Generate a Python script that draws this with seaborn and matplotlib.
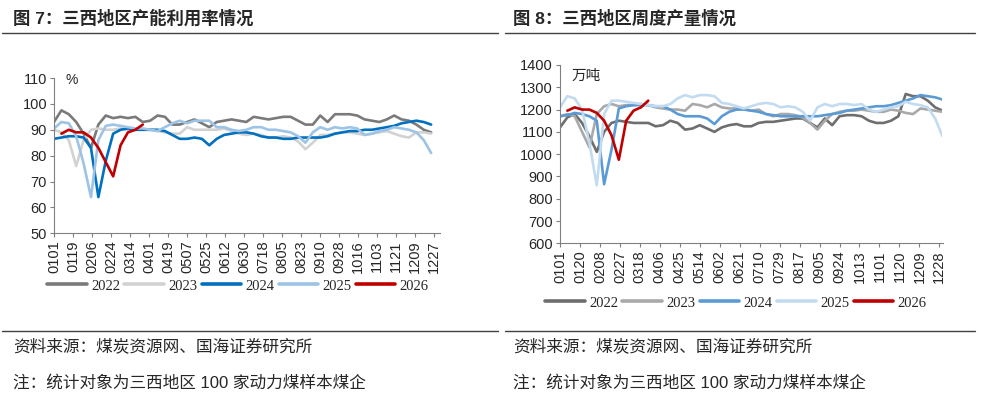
import numpy as np
import pandas as pd
import matplotlib
matplotlib.use('Agg')
import matplotlib.pyplot as plt
import seaborn as sns

sns.set_style('white')
plt.rcParams['font.family'] = ['Liberation Sans', 'Noto Sans CJK SC', 'DejaVu Sans']

years = ['2022', '2023', '2024', '2025', '2026']

# 图7 capacity utilisation (%), weekly
cap_2022 = [93, 97.5, 96, 93, 88.5, 83, 92, 95.5, 94.5, 95, 94.5, 95, 93, 93.5, 95.5, 95, 92, 92, 93, 94,
            92.5, 91, 93, 93.5, 94, 93.5, 93, 95, 94.5, 94, 94.5, 95, 95, 93.5, 92, 92, 95.5, 93, 96, 96,
            96, 95.5, 94, 93.5, 93, 94, 95.5, 94, 93.5, 92, 90, 89]
cap_2023 = [90, 89, 86, 76, 86, 90, 90.5, 90, 90, 90.5, 90, 90, 90, 90, 89.5, 89, 88.5, 88.5, 91, 90,
            90, 90, 90, 90.5, 89.5, 88.5, 88, 88.5, 88, 87, 87, 87.5, 87, 85.5, 82.5, 85, 88, 88, 88.5, 89,
            89, 88.5, 88, 88.5, 89, 89.5, 88.5, 87.5, 87, 89, 89, 88.5]
cap_2024 = [86.5, 87, 87.5, 87.5, 87, 83, 64, 78, 88.5, 90, 90.5, 90, 90, 90, 90, 89.5, 88, 86.5, 86.5, 87,
            86.5, 84, 86.5, 88, 88.5, 89, 89, 88.5, 87.5, 87, 87, 86.5, 86.5, 87, 87, 87, 87, 87.5, 88.5, 89,
            89.5, 89.5, 90, 90, 90.5, 91, 91.5, 92.5, 93, 93.5, 93, 92]
cap_2025 = [90.5, 93, 92.5, 87.5, 77, 64, 86, 91.5, 92, 91.5, 91, 90.5, 90.5, 90, 89.5, 91, 92.5, 93.5, 92.5, 93.5,
            93.5, 93.5, 91, 91, 90, 89.5, 90, 91, 91, 90, 90, 89.5, 89, 87.5, 85, 89, 91, 90, 91, 90.5,
            91, 90.5, 88, 88.5, 89.5, 90, 91, 90.5, 90, 89, 86, 81]
cap_2026 = [88.5, 90, 89, 89, 87, 83, 77.5, 72, 84, 89, 90, 92]
cap_ticks = ['0101', '0119', '0206', '0224', '0314', '0401', '0419', '0507', '0525', '0612', '0630',
             '0718', '0805', '0823', '0910', '0928', '1016', '1103', '1121', '1209', '1227']

# 图8 weekly output (万吨)
out_2022 = [1120, 1165, 1180, 1140, 1080, 1010, 1100, 1140, 1150, 1145, 1140, 1140, 1140, 1125, 1130, 1150, 1140, 1110,
            1115, 1130, 1115, 1100, 1120, 1130, 1135, 1125, 1125, 1140, 1145, 1145, 1150, 1155, 1160, 1160, 1140, 1120,
            1160, 1130, 1170, 1175, 1175, 1170, 1150, 1140, 1140, 1150, 1170, 1270, 1260, 1260, 1240, 1210, 1195]
out_2023 = [1170, 1180, 1170, 1100, 1030, 1180, 1215, 1225, 1215, 1220, 1220, 1225, 1220, 1210, 1205, 1200, 1200, 1195,
            1225, 1220, 1210, 1225, 1210, 1205, 1205, 1205, 1195, 1200, 1180, 1170, 1180, 1180, 1175, 1165, 1140, 1110,
            1150, 1180, 1190, 1195, 1195, 1200, 1195, 1190, 1190, 1200, 1195, 1185, 1180, 1205, 1200, 1195, 1190]
out_2024 = [1170, 1175, 1185, 1180, 1170, 1150, 865, 1020, 1205, 1215, 1220, 1220, 1220, 1215, 1215, 1200, 1180, 1170,
            1170, 1170, 1160, 1135, 1170, 1190, 1200, 1200, 1195, 1190, 1180, 1175, 1170, 1170, 1170, 1170, 1170, 1170,
            1175, 1180, 1185, 1195, 1200, 1205, 1210, 1215, 1215, 1220, 1230, 1240, 1250, 1265, 1260, 1255, 1245]
out_2025 = [1210, 1260, 1250, 1200, 1050, 860, 1180, 1240, 1240, 1235, 1230, 1225, 1220, 1215, 1215, 1225, 1250, 1265,
            1255, 1265, 1265, 1260, 1230, 1225, 1215, 1205, 1215, 1225, 1230, 1225, 1210, 1215, 1210, 1190, 1150, 1210,
            1225, 1215, 1225, 1225, 1220, 1225, 1200, 1190, 1200, 1210, 1215, 1235, 1225, 1220, 1210, 1160, 1080]
out_2026 = [1195, 1210, 1200, 1200, 1185, 1150, 1085, 975, 1150, 1195, 1210, 1240]
out_ticks = ['0101', '0120', '0208', '0227', '0318', '0406', '0425', '0514', '0602', '0621', '0710',
             '0729', '0817', '0905', '0924', '1013', '1101', '1120', '1209', '1228']

cap_colors = ['#7a7a7a', '#d2d2d2', '#0070c0', '#9dc3e6', '#c00000']
out_colors = ['#6e6e6e', '#a9a9a9', '#5b9bd5', '#c3dbf0', '#c00000']


def to_long(series):
    # weekly points, 2026 starts one week in
    rows = []
    for yr, vals in zip(years, series):
        start = 1 if yr == '2026' else 0
        for i, v in enumerate(vals):
            rows.append({'day': 7 * (i + start), 'value': v, 'year': yr})
    return pd.DataFrame(rows)


def draw_panel(ax, df, colors, tick_step, ticks, ylim, ystep, xmax):
    sns.lineplot(data=df, x='day', y='value', hue='year', palette=dict(zip(years, colors)),
                 linewidth=1.9, sort=False, ax=ax, legend=True)
    ax.set_xlim(0, xmax)
    ax.set_ylim(*ylim)
    ax.set_xticks(np.arange(len(ticks)) * tick_step)
    ax.set_xticklabels(ticks, rotation=90, fontsize=10.5)
    ax.set_yticks(np.arange(ylim[0], ylim[1] + 1, ystep))
    ax.tick_params(axis='y', labelsize=10.5, length=3, width=0.8, color='#808080', pad=2, left=True)
    ax.tick_params(axis='x', length=3, width=0.8, color='#808080', pad=2, bottom=True)
    ax.set_xlabel('')
    ax.set_ylabel('')
    for s in ['top', 'right']:
        ax.spines[s].set_visible(False)
    for s in ['left', 'bottom']:
        ax.spines[s].set_color('#808080')
        ax.spines[s].set_linewidth(0.8)
    h, l = ax.get_legend_handles_labels()
    ax.get_legend().remove()
    return h, l


fig = plt.figure(figsize=(9.82, 3.96), dpi=100)
W, H = 982, 396

ax1 = fig.add_axes([54 / W, (H - 233.3) / H, 385.6 / W, 155.3 / H])
h1, l1 = draw_panel(ax1, to_long([cap_2022, cap_2023, cap_2024, cap_2025, cap_2026]),
                    cap_colors, 18, cap_ticks, (50, 110), 10, 365)
ax1.text(66 / W, 1 - 80 / H, '%', transform=fig.transFigure, fontsize=10, va='center')

ax2 = fig.add_axes([560 / W, (H - 243.3) / H, 382.5 / W, 178.3 / H])
h2, l2 = draw_panel(ax2, to_long([out_2022, out_2023, out_2024, out_2025, out_2026]),
                    out_colors, 19, out_ticks, (600, 1400), 100, 364)
fig.text(572 / W, 1 - 76 / H, '万吨', fontsize=10.5, va='center', family=['Noto Sans CJK SC'])

leg_kw = dict(loc='center', ncol=5, frameon=False, handlelength=2.7, handletextpad=0.3,
              columnspacing=0.3, prop={'family': 'Liberation Serif', 'size': 10.5})
for h in h1 + h2:
    h.set_linewidth(2.6)
fig.legend(h1, l1, bbox_to_anchor=(238 / W, 1 - 286 / H), **leg_kw)
fig.legend(h2, l2, bbox_to_anchor=(736 / W, 1 - 303 / H), **leg_kw)

# titles, rules and notes
cjk = ['Liberation Sans', 'Noto Sans CJK SC', 'DejaVu Sans']
fig.text(13 / W, 1 - 18 / H, '图 7：三西地区产能利用率情况', fontsize=12.5, fontweight='bold', va='center', family=cjk)
fig.text(513 / W, 1 - 18 / H, '图 8：三西地区周度产量情况', fontsize=12.5, fontweight='bold', va='center', family=cjk)
for x0, x1 in [(2, 498), (505, 975)]:
    for y in [33, 331]:
        fig.add_artist(plt.Line2D([x0 / W, x1 / W], [1 - y / H, 1 - y / H], color='#404040', linewidth=1.0))
for x0 in [13, 513]:
    fig.text(x0 / W, 1 - 346 / H, '资料来源：煤炭资源网、国海证券研究所', fontsize=12, va='center', family=cjk)
    fig.text(x0 / W, 1 - 383 / H, '注：统计对象为三西地区 100 家动力煤样本煤企', fontsize=12, va='center', family=cjk)

fig.savefig('out.png', dpi=100)
